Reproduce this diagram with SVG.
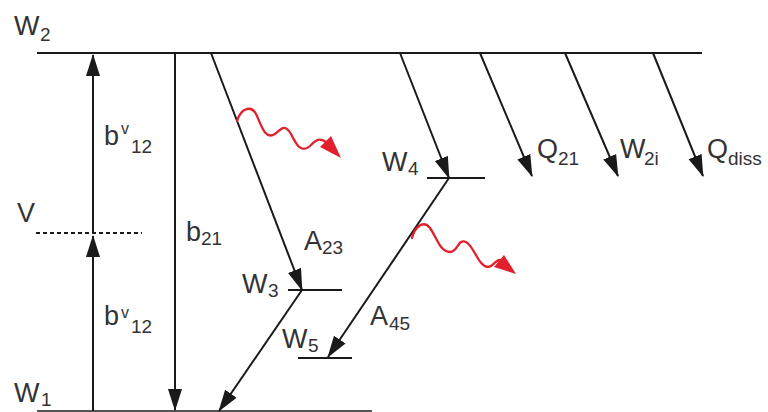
<svg xmlns="http://www.w3.org/2000/svg" width="768" height="412" viewBox="0 0 768 412">
<style>
text{font-family:"Liberation Sans",Arial,sans-serif;fill:#333;font-size:27px}
.s{font-size:19px}
.sup{font-size:16px}
.lv{stroke:#1a1a1a;stroke-width:2;fill:none}
.ar{stroke:#1a1a1a;stroke-width:2;fill:none;marker-end:url(#ah)}
.wave{stroke:#e0202a;stroke-width:2.3;fill:none;stroke-linecap:round}
.wh{fill:#e0202a}
</style>
<defs>
<marker id="ah" viewBox="0 0 22 14" markerWidth="22" markerHeight="15" refX="21" refY="7" orient="auto" markerUnits="userSpaceOnUse">
<path d="M0,0 L22,7 L0,14 z" fill="#1a1a1a"/>
</marker>
</defs>
<rect width="768" height="412" fill="#fff"/>
<g id="W2">
<line class="lv" x1="37" y1="53" x2="702" y2="53" stroke-width="2.5"/>
<text x="14" y="35">W</text><text class="s" x="40" y="41">2</text>
</g>
<g id="W1">
<line x1="37" y1="411" x2="372" y2="411" stroke="#555" stroke-width="2"/>
<text x="14" y="402">W</text><text class="s" x="41" y="406">1</text>
</g>
<g id="V">
<line x1="36" y1="233" x2="142" y2="233" stroke="#1a1a1a" stroke-width="2" stroke-dasharray="4,3"/>
<text x="17" y="222">V</text>
</g>
<g id="W3">
<line class="lv" x1="288" y1="290" x2="342" y2="290"/>
<text x="242" y="293">W</text><text class="s" x="268" y="297">3</text>
</g>
<g id="W4">
<line class="lv" x1="427" y1="178" x2="485" y2="178"/>
<text x="382" y="171">W</text><text class="s" x="408" y="175">4</text>
</g>
<g id="W5">
<line class="lv" x1="298" y1="358" x2="352" y2="358"/>
<text x="282" y="348">W</text><text class="s" x="308" y="352">5</text>
</g>
<g id="connectors">
<line class="ar" x1="93" y1="411" x2="93" y2="236"/>
<line class="ar" x1="93" y1="233" x2="93" y2="55"/>
<line class="ar" x1="175" y1="53" x2="175" y2="410"/>
<line class="ar" x1="211" y1="53" x2="302" y2="290"/>
<line class="ar" x1="302" y1="290" x2="219" y2="411"/>
<line class="ar" x1="400" y1="53" x2="449" y2="178"/>
<line class="ar" x1="449" y1="178" x2="328" y2="357"/>
<line class="ar" x1="480" y1="53" x2="532" y2="176"/>
<line class="ar" x1="565" y1="53" x2="618" y2="176"/>
<line class="ar" x1="653" y1="53" x2="703" y2="176"/>
<path class="wave" d="M237,121 C241,108 252,104 257,116 C262,128 266,140 275,134 C282,128 285,124 291,134 C296,144 301,154 310,146 C315,141 318,137 326,142"/>
<polygon class="wh" points="341,158 320,147 331,136"/>
<path class="wave" d="M412,238 C415,226 424,220 430,228 C437,238 440,252 450,252 C458,252 458,238 466,242 C474,246 478,266 488,267 C493,267 495,260 500,260"/>
<polygon class="wh" points="516,274 494,267 504,255"/>
</g>
<g id="labels">
<text x="104" y="145">b</text><text class="sup" x="121" y="134">v</text><text class="s" x="131" y="153">12</text>
<text x="104" y="325">b</text><text class="sup" x="121" y="318">v</text><text class="s" x="131" y="333">12</text>
<text x="186" y="241">b</text><text class="s" x="201" y="245">21</text>
<text x="304" y="250">A</text><text class="s" x="322" y="254">23</text>
<text x="370" y="325">A</text><text class="s" x="389" y="330">45</text>
<text x="537" y="158">Q</text><text class="s" x="558" y="165">21</text>
<text x="620" y="158">W</text><text class="s" x="644" y="165">2i</text>
<text x="707" y="158">Q</text><text class="s" x="728" y="165">diss</text>
</g>
</svg>
